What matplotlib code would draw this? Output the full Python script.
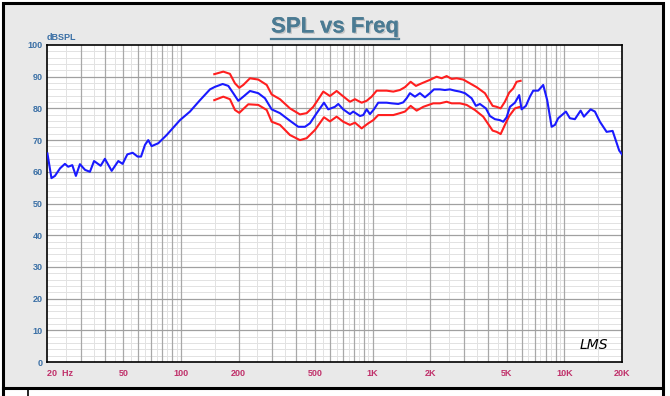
import matplotlib
matplotlib.use("Agg")
import matplotlib.pyplot as plt
import matplotlib.patheffects as pe
from matplotlib.patches import Rectangle
from matplotlib.lines import Line2D

# --- data (Hz, dBSPL) ---
blue_freq = [20.1, 21.1, 22.0, 23.4, 24.8, 25.8, 27.1, 28.3, 29.7, 31.6, 33.5, 35.2,
             38.1, 40.1, 43.5, 47.1, 49.6, 52.5, 56.0, 59.4, 61.9, 64.9, 67.5, 70.3,
             76.1, 84.2, 98.8, 111.4, 125.7, 141.7, 150.4, 165.0, 176.6, 187.4, 199.0,
             211.4, 229.1, 253.1, 274.3, 297.3, 328.5, 370.4, 409.3, 443.6, 470.9,
             510.6, 557.2, 586.7, 635.8, 661.6, 702.3, 761.3, 792.0, 858.6, 893.3,
             930.5, 968.2, 1015.7, 1069.5, 1183.3, 1256.6, 1360.5, 1444.3, 1504.7,
             1565.5, 1662.4, 1765.3, 1874.3, 1990.3, 2088.3, 2244.6, 2383.2, 2530.8,
             2687.3, 2853.7, 3030.4, 3283.5, 3458.4, 3628.6, 3899.2, 4091.7, 4345.3,
             4613.6, 4801.7, 5001.6, 5203.6, 5525.4, 5817.5, 5988.6, 6304.3, 6614.2,
             6884, 7310, 7762, 8143, 8587, 8934, 9295, 10196, 10695, 11357, 12164,
             12656, 13716, 14443, 15336, 16625, 17868, 19338, 20000]
blue_db = [65.8, 58.0, 58.7, 61.1, 62.5, 61.6, 62.1, 58.7, 62.4, 60.6, 60.0, 63.4,
           61.9, 64.1, 60.3, 63.4, 62.5, 65.5, 66.0, 64.8, 64.8, 68.5, 70.0, 68.1,
           69.0, 71.6, 76.3, 79.0, 82.6, 86.0, 86.8, 87.7, 87.1, 84.8, 82.4,
           83.7, 85.5, 84.8, 83.2, 79.7, 78.5, 76.1, 74.2, 74.2, 75.3,
           78.5, 81.8, 79.7, 80.5, 81.4, 79.7, 78.2, 79.0, 77.6, 77.9,
           79.7, 78.2, 79.7, 81.8, 81.8, 81.6, 81.4, 81.9, 83.2,
           84.8, 83.7, 84.8, 83.5, 84.8, 86.0, 86.0, 85.8, 86.0,
           85.6, 85.3, 84.8, 83.2, 80.8, 81.4, 80.0, 77.6, 76.6,
           76.3, 75.8, 77.2, 80.5, 81.8, 84.2, 79.7, 80.8, 83.7,
           85.6, 85.6, 87.4, 82.6, 74.2, 74.8, 76.9, 79.0, 76.9, 76.6, 79.3,
           77.4, 79.7, 79.0, 75.8, 72.6, 72.9, 66.7, 65.5]

upper_freq = [149.2, 166.3, 180.1, 191.3, 201.4, 211.4, 229.1, 253.1, 280.1, 297.3,
              328.5, 370.4, 417.6, 452.6, 490.2, 552.6, 598.9, 649.0, 689.0, 761.3,
              808.8, 876.3, 930.5, 988.0, 1049.5, 1183.3, 1281.4, 1388.5, 1474.3,
              1579, 1682.5, 1801, 1990, 2157, 2292, 2433, 2583, 2743, 2970, 3218,
              3487, 3853, 4227, 4435, 4654, 4898, 5159, 5412, 5638, 5918]
upper_db = [90.8, 91.6, 90.9, 87.9, 86.5, 87.4, 89.5, 89.1, 87.4, 84.4,
            82.9, 80.0, 78.1, 78.5, 80.5, 85.3, 83.9, 85.5, 84.2, 82.1,
            82.9, 81.8, 82.4, 83.7, 85.6, 85.6, 85.3, 85.8, 86.7,
            88.4, 87.1, 87.9, 89.0, 90.0, 89.5, 90.2, 89.3, 89.5, 89.1, 87.9,
            86.7, 84.8, 80.8, 80.5, 80.0, 82.1, 85.0, 86.3, 88.4, 88.7]

lower_freq = [149.2, 166.3, 180.1, 191.3, 201.4, 224.5, 253.1, 280.1, 297.3, 328.5,
              370.4, 417.6, 452.6, 500.3, 557.2, 598.9, 649.0, 702.3, 761.3, 808.8,
              876.3, 948.8, 1008, 1069.5, 1183.3, 1281.4, 1388.5, 1474.3, 1579,
              1696.6, 1837.5, 2071.8, 2244.6, 2433, 2583, 2853.7, 3093, 3417, 3775,
              4227, 4435, 4654, 4898, 5159, 5525, 5868]
lower_db = [82.6, 83.7, 82.9, 79.5, 78.6, 81.3, 81.1, 79.5, 75.8, 74.8,
            71.6, 70.0, 70.6, 73.2, 77.2, 75.9, 77.4, 75.8, 74.8, 75.5,
            73.7, 75.3, 76.3, 77.9, 77.9, 77.9, 78.5, 79.0, 80.8,
            79.3, 80.5, 81.6, 81.6, 82.1, 81.6, 81.6, 81.1, 79.5, 77.4,
            73.0, 72.6, 71.9, 74.8, 77.6, 80.0, 80.5]

x_ticks = [20, 50, 100, 200, 500, 1000, 2000, 5000, 10000, 20000]
x_labels = ['20  Hz', '50', '100', '200', '500', '1K', '2K', '5K', '10K', '20K']
y_ticks = list(range(0, 101, 10))

plt.rcParams['font.family'] = ['Liberation Sans', 'DejaVu Sans']

fig = plt.figure(figsize=(6.70, 3.96), dpi=100)
fig.patch.set_facecolor('white')

W, H = 670.0, 396.0

# grey panel with thick black frame, and the cut-off box below it
fig.add_artist(Rectangle((3 / W, 1 - 388 / H), 660 / W, 385 / H, facecolor='#e9e9e9',
                         edgecolor='black', lw=2.2, transform=fig.transFigure, zorder=-2))
fig.add_artist(Line2D([28 / W, 28 / W], [0, 1 - 390 / H], color='black', lw=1.2))
fig.add_artist(Line2D([3 / W, 3 / W], [0, 1 - 388 / H], color='black', lw=2.2))
fig.add_artist(Line2D([663 / W, 663 / W], [0, 1 - 388 / H], color='black', lw=2.2))

ax = fig.add_axes([47 / W, 1 - 362 / H, 575 / W, 317 / H])
ax.set_facecolor('white')
ax.set_xscale('log')
ax.set_xlim(20, 20000)
ax.set_ylim(0, 100)

# grid: integer multiples darker, half steps lighter
for dec in [10, 100, 1000, 10000]:
    for m in range(1, 10):
        f = dec * m
        if 20 < f < 20000:
            ax.axvline(f, color='#a8a8a8', lw=0.9, zorder=1)
        fh = dec * (m + 0.5)
        if 20 < fh < 20000:
            ax.axvline(fh, color='#e2e2e2', lw=0.7, zorder=0.5)
for y in range(2, 100, 2):
    if y % 10 == 0:
        ax.axhline(y, color='#a0a0a0', lw=0.9, zorder=1)
    else:
        ax.axhline(y, color='#e2e2e2', lw=0.7, zorder=0.5)

ax.plot(upper_freq, upper_db, color='#ff1f1f', lw=1.5, zorder=3)
ax.plot(lower_freq, lower_db, color='#ff1f1f', lw=1.5, zorder=3)
ax.plot(blue_freq, blue_db, color='#1a1aff', lw=1.5, zorder=4)

ax.set_xticks(x_ticks)
ax.set_xticklabels(x_labels)
ax.xaxis.set_minor_locator(matplotlib.ticker.NullLocator())
ax.set_yticks(y_ticks)
ax.tick_params(axis='both', length=0)
ax.tick_params(axis='x', pad=5, labelsize=6.5, labelcolor='#c0306a')
ax.tick_params(axis='y', pad=3, labelsize=6.5, labelcolor='#3a6fa5')
for t in ax.get_xticklabels():
    t.set_fontweight('bold')
for t in ax.get_yticklabels():
    t.set_fontweight('bold')
ax.get_xticklabels()[0].set_horizontalalignment('left')

for s in ax.spines.values():
    s.set_color('black')
    s.set_linewidth(1.2)

ax.text(0.0, 1.01, 'dBSPL', transform=ax.transAxes, fontsize=6.5,
        fontweight='bold', color='#3a6fa5', ha='left', va='bottom')

ax.text(0.975, 0.03, 'LMS', transform=ax.transAxes, fontsize=10,
        fontstyle='italic', family='DejaVu Sans', color='black',
        ha='right', va='bottom')

# title with underline and a light shadow
title = fig.text(0.5, 1 - 27 / H, 'SPL vs Freq', fontsize=16, fontweight='bold',
                 color='#4b7b93', ha='center', va='center',
                 path_effects=[pe.withSimplePatchShadow(offset=(1, -1),
                                                        shadow_rgbFace='#b0b0b0',
                                                        alpha=0.6), pe.Normal()])
fig.canvas.draw()
bb = title.get_window_extent(fig.canvas.get_renderer())
uy = (bb.y0 - 1) / H
fig.add_artist(Line2D([bb.x0 / W, bb.x1 / W], [uy, uy], color='#4b7b93', lw=1.6))

fig.savefig('out.png', dpi=100, facecolor=fig.get_facecolor())
